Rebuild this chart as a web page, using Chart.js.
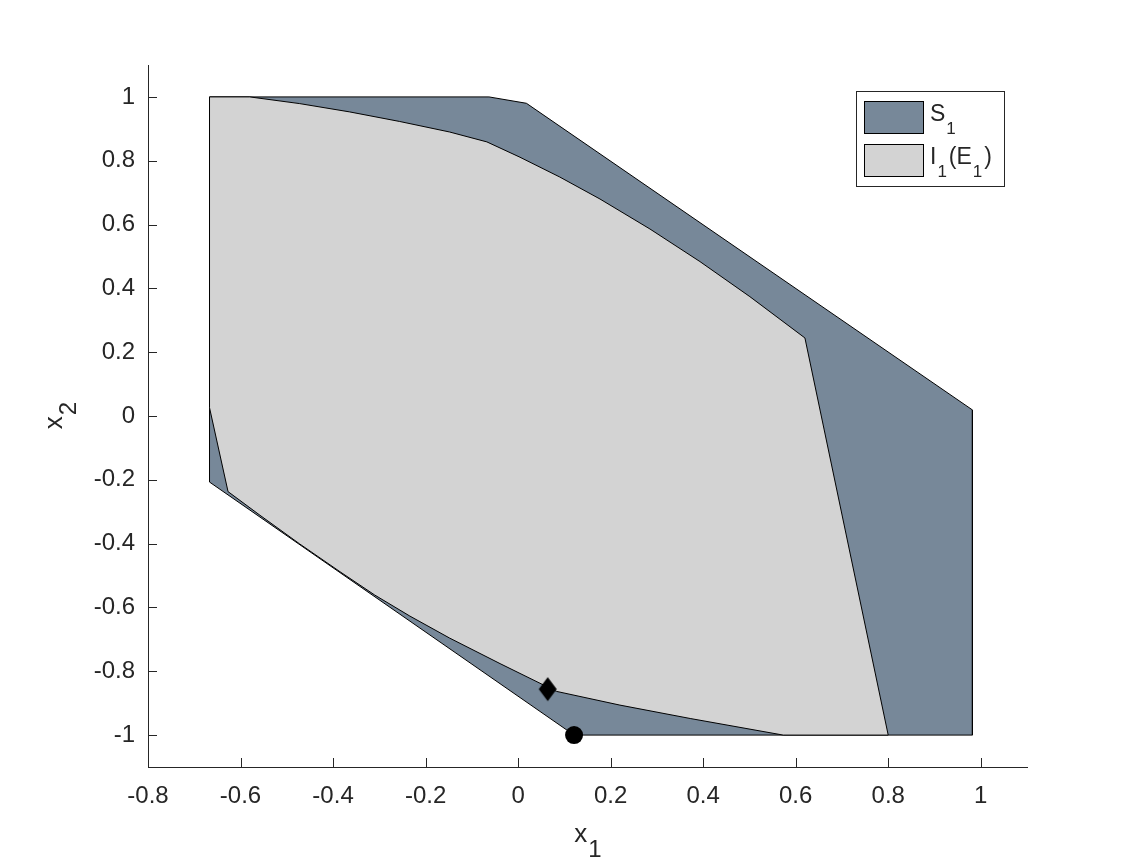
<!DOCTYPE html>
<html>
<head>
<meta charset="utf-8">
<script src="https://cdn.jsdelivr.net/npm/chart.js@4/dist/chart.umd.min.js"></script>
<style>
  html, body { margin: 0; padding: 0; background: #ffffff; }
  #wrap { width: 1134px; height: 864px; }
</style>
</head>
<body>
<div id="wrap"><canvas id="c" width="1134" height="864"></canvas></div>
<script>
// ---- data ----
const xTicks = [-0.8, -0.6, -0.4, -0.2, 0, 0.2, 0.4, 0.6, 0.8, 1];
const yTicks = [-1, -0.8, -0.6, -0.4, -0.2, 0, 0.2, 0.4, 0.6, 0.8, 1];

// S1 polygon vertices
const s1X = [-0.667, -0.063, 0.018, 0.982, 0.982, 0.121, -0.667, -0.667];
const s1Y = [1, 1, 0.98, 0.019, -1, -1, -0.207, 1];

// I1(E1) polygon vertices
const i1X = [-0.667, -0.58, -0.472, -0.364, -0.256, -0.148, -0.0675,
             0.004, 0.090, 0.177, 0.285, 0.393, 0.501, 0.620,
             0.80, 0.573, 0.372, 0.220, 0.083,
             -0.039, -0.148, -0.234, -0.310, -0.385, -0.472, -0.558, -0.627,
             -0.667, -0.667];
const i1Y = [1, 1, 0.979, 0.953, 0.923, 0.890, 0.859,
             0.811, 0.749, 0.680, 0.586, 0.484, 0.374, 0.2445,
             -1, -1, -0.948, -0.906, -0.863,
             -0.776, -0.696, -0.627, -0.561, -0.488, -0.401, -0.311, -0.237,
             0.026, 1];

const diamondX = [0.064], diamondY = [-0.856];
const circleX = [0.121], circleY = [-1];

// legend text pieces: [text, isSubscript]
const legendLabels = [
  [['S', false], ['1', true]],
  [['I', false], ['1', true], ['(E', false], ['1', true], [')', false]]
];

// ---- helpers ----
const toPts = (xs, ys) => xs.map((x, i) => ({ x: x, y: ys[i] }));
const FONT = "'Liberation Sans', Arial, Helvetica, sans-serif";
const AX = '#262626';
const DARK = '#778899';
const LIGHT = '#d3d3d3';

// diamond marker image
const dia = document.createElement('canvas');
dia.width = 20; dia.height = 26;
(function () {
  const g = dia.getContext('2d');
  g.fillStyle = '#000';
  g.beginPath();
  g.moveTo(10, 1); g.lineTo(19, 13); g.lineTo(10, 25); g.lineTo(1, 13); g.closePath();
  g.fill();
})();

const inwardTicks = {
  id: 'inwardTicks',
  afterDraw(chart) {
    const ctx = chart.ctx, xs = chart.scales.x, ys = chart.scales.y;
    const a = chart.chartArea;
    ctx.save();
    ctx.strokeStyle = AX; ctx.lineWidth = 1;
    ctx.beginPath();
    xTicks.forEach(v => {
      const p = Math.round(xs.getPixelForValue(v)) + 0.5;
      ctx.moveTo(p, a.bottom); ctx.lineTo(p, a.bottom - 9);
    });
    yTicks.forEach(v => {
      const p = Math.round(ys.getPixelForValue(v)) + 0.5;
      ctx.moveTo(a.left, p); ctx.lineTo(a.left + 9, p);
    });
    ctx.stroke();
    ctx.restore();
  }
};

const labelsAndLegend = {
  id: 'labelsAndLegend',
  afterDraw(chart) {
    const ctx = chart.ctx, a = chart.chartArea;
    ctx.save();
    ctx.fillStyle = AX;
    ctx.textBaseline = 'alphabetic';
    ctx.textAlign = 'left';
    // x label: x_1
    const mainF = '26px ' + FONT, subF = '24px ' + FONT;
    ctx.font = mainF; const wx = ctx.measureText('x').width;
    ctx.font = subF; const w1 = ctx.measureText('1').width;
    const cx = (a.left + a.right) / 2;
    let sx = cx - (wx + w1) / 2;
    ctx.font = mainF;
    ctx.fillText('x', sx, 842);
    ctx.font = subF; ctx.fillText('1', sx + wx + 1, 857);
    // y label: x_2 (rotated)
    ctx.save();
    ctx.translate(62, (a.top + a.bottom) / 2);
    ctx.rotate(-Math.PI / 2);
    ctx.font = subF; const w2 = ctx.measureText('2').width;
    sx = -(wx + w2) / 2;
    ctx.font = mainF; ctx.fillText('x', sx, 0);
    ctx.font = subF; ctx.fillText('2', sx + wx + 1, 14);
    ctx.restore();

    // legend
    const bx = 856.5, by = 91.5, bw = 148, bh = 95;
    ctx.fillStyle = '#ffffff';
    ctx.fillRect(bx, by, bw, bh);
    ctx.strokeStyle = AX; ctx.lineWidth = 1;
    ctx.strokeRect(bx, by, bw, bh);
    const sw = [[DARK, 101.5], [LIGHT, 144.5]];
    sw.forEach(s => {
      ctx.fillStyle = s[0];
      ctx.fillRect(864.5, s[1], 59, 32);
      ctx.strokeStyle = '#000';
      ctx.strokeRect(864.5, s[1], 59, 32);
    });
    const lf = '23px ' + FONT, lsf = '17px ' + FONT;
    const bases = [[121, 134], [164, 177]];
    ctx.fillStyle = AX;
    legendLabels.forEach((parts, k) => {
      let px = 930;
      parts.forEach(p => {
        const t = p[0], sub = p[1];
        ctx.font = sub ? lsf : lf;
        ctx.fillText(t, px, sub ? bases[k][1] : bases[k][0]);
        px += ctx.measureText(t).width + (sub ? 2 : 1);
      });
    });
    ctx.restore();
  }
};

const tickFmt = v => {
  const r = Math.round(v * 10) / 10;
  return r === 0 ? '0' : String(r);
};

new Chart(document.getElementById('c'), {
  type: 'scatter',
  data: {
    datasets: [
      {
        label: 'S1', data: toPts(s1X, s1Y), showLine: true, fill: 'shape',
        backgroundColor: DARK, borderColor: '#000', borderWidth: 1,
        pointRadius: 0, tension: 0, order: 3
      },
      {
        label: 'I1(E1)', data: toPts(i1X, i1Y), showLine: true, fill: 'shape',
        backgroundColor: LIGHT, borderColor: '#000', borderWidth: 1,
        pointRadius: 0, tension: 0, order: 2
      },
      {
        label: 'diamond', data: toPts(diamondX, diamondY), showLine: false,
        pointStyle: dia, pointRadius: 10, order: 1
      },
      {
        label: 'circle', data: toPts(circleX, circleY), showLine: false,
        pointStyle: 'circle', pointRadius: 9, backgroundColor: '#000', borderColor: '#000',
        borderWidth: 0, order: 0
      }
    ]
  },
  options: {
    responsive: false,
    animation: false,
    devicePixelRatio: 1,
    layout: { padding: { top: 65, right: 107, left: 0, bottom: 0 } },
    plugins: { legend: { display: false }, tooltip: { enabled: false } },
    scales: {
      x: {
        type: 'linear', position: 'bottom', min: -0.8, max: 1.1,
        afterBuildTicks: s => { s.ticks = xTicks.map(v => ({ value: v })); },
        afterFit: s => { s.height = 97; },
        grid: { display: true, drawOnChartArea: false, drawTicks: false },
        border: { display: true, color: AX, width: 1 },
        ticks: {
          autoSkip: false, maxRotation: 0, padding: 15, color: AX,
          font: { family: FONT, size: 24 }, callback: tickFmt
        }
      },
      y: {
        type: 'linear', position: 'left', min: -1.1, max: 1.1,
        afterBuildTicks: s => { s.ticks = yTicks.map(v => ({ value: v })); },
        afterFit: s => { s.width = 148; },
        grid: { display: true, drawOnChartArea: false, drawTicks: false },
        border: { display: true, color: AX, width: 1 },
        ticks: {
          autoSkip: false, padding: 13, color: AX,
          font: { family: FONT, size: 24 }, callback: tickFmt
        }
      }
    }
  },
  plugins: [inwardTicks, labelsAndLegend]
});
</script>
</body>
</html>
